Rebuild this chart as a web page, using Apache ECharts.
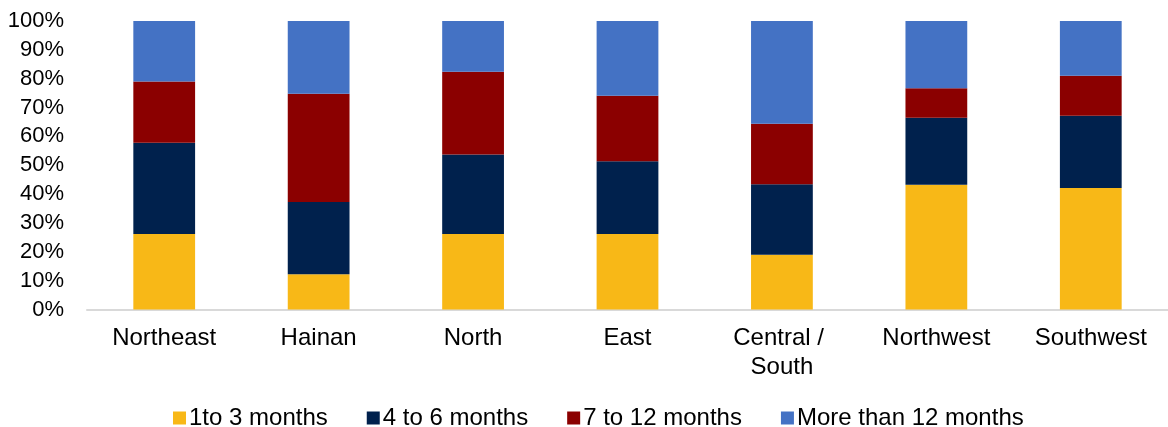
<!DOCTYPE html>
<html>
<head>
<meta charset="utf-8">
<script src="https://cdn.jsdelivr.net/npm/echarts@6/dist/echarts.min.js"></script>
<style>
  html, body { margin: 0; padding: 0; background: #fff; }
  #chart { width: 1168px; height: 427px; }
</style>
</head>
<body>
<div id="chart"></div>
<script>
// Regions and share of each duration band (percent of respondents)
const regions = ['Northeast', 'Hainan', 'North', 'East', 'Central / South', 'Northwest', 'Southwest'];
const oneToThree   = [26.2, 12.2, 26.2, 26.2, 19.0, 43.2, 42.1];
const fourToSix    = [31.6, 25.1, 27.5, 25.2, 24.4, 23.3, 25.1];
const sevenToTwelve = [21.2, 37.5, 28.7, 22.7, 21.0, 10.2, 13.8];
const moreThanTwelve = [21.0, 25.2, 17.6, 25.9, 35.6, 23.3, 19.0];
const seriesNames = ['1to 3 months', '4 to 6 months', '7 to 12 months', 'More than 12 months'];
const yTicks = [0, 10, 20, 30, 40, 50, 60, 70, 80, 90, 100];

const colors = ['#F8B817', '#00214D', '#8B0000', '#4472C4'];
const FONT = '"Liberation Sans", Arial, sans-serif';

const chart = echarts.init(document.getElementById('chart'), null, { renderer: 'canvas' });

const seriesData = [oneToThree, fourToSix, sevenToTwelve, moreThanTwelve];

chart.setOption({
  animation: false,
  color: colors,
  grid: { left: 87, top: 21, width: 1083, height: 288.5, containLabel: false },
  legend: {
    data: seriesNames,
    left: 168,
    top: 401,
    itemWidth: 13,
    itemHeight: 13,
    itemGap: 39,
    icon: 'rect',
    textStyle: { fontFamily: FONT, fontSize: 24, color: '#000', padding: [0, 0, 0, -2] }
  },
  xAxis: {
    type: 'category',
    data: regions,
    axisLine: { show: true, lineStyle: { color: '#D9D9D9', width: 2 } },
    axisTick: { show: false },
    axisLabel: {
      fontFamily: FONT, fontSize: 24, color: '#000',
      margin: 14, lineHeight: 29,
      width: 135, overflow: 'break', interval: 0
    }
  },
  yAxis: {
    type: 'value',
    min: yTicks[0],
    max: yTicks[yTicks.length - 1],
    interval: 10,
    axisLine: { show: false },
    axisTick: { show: false },
    splitLine: { show: false },
    axisLabel: {
      fontFamily: FONT, fontSize: 22, color: '#000', margin: 23,
      formatter: v => v + '%'
    }
  },
  series: seriesNames.map((name, i) => ({
    name,
    type: 'bar',
    stack: 'total',
    barWidth: '40%',
    data: seriesData[i],
    itemStyle: { color: colors[i] }
  }))
});
</script>
</body>
</html>
